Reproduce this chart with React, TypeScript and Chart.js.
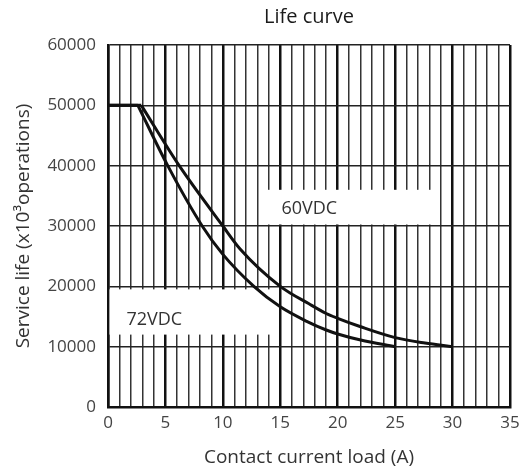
import React, { useEffect, useRef } from "react";
import { Chart, registerables } from "chart.js";

Chart.register(...registerables);

const TITLE = "Life curve";
const X_TITLE = "Contact current load (A)";
const Y_TITLE = "Service life (x10³operations)";

const xTicksMin = 0;
const xTicksMax = 35;
const yTicksMin = 0;
const yTicksMax = 60000;
const yStep = 10000;

// 72VDC series
const flat72X = [0, 2.6];
const flat72Y = [50000, 50000];
const curve72X = [2.6, 5.2, 8.2, 10, 12.7, 15, 17.3, 19, 20, 22, 25];
const curve72Y = [50000, 40000, 30000, 25300, 20000, 16600, 14200, 12760, 12100, 11100, 10000];

// 60VDC series
const flat60X = [0, 2.9];
const flat60Y = [50000, 50000];
const curve60X = [2.9, 6.2, 10, 11.5, 15, 17.5, 19, 20, 22, 25, 27.6, 30];
const curve60Y = [50000, 40000, 30000, 26200, 20000, 17100, 15500, 14700, 13300, 11500, 10600, 10000];

const LABEL_60 = "60VDC";
const LABEL_72 = "72VDC";

const FONT = "'Open Sans', sans-serif";

const toPts = (xs: number[], ys: number[]) => xs.map((x, i) => ({ x, y: ys[i] }));

const labelBoxes = {
  id: "labelBoxes",
  beforeDatasetsDraw(chart: any) {
    const { ctx, scales } = chart;
    const xs = scales.x;
    const ys = scales.y;
    ctx.save();
    ctx.fillStyle = "#ffffff";
    {
      const l = xs.getPixelForValue(13.6);
      const r = xs.getPixelForValue(28.9);
      const t = ys.getPixelForValue(36000);
      const b = ys.getPixelForValue(30000) - 1.5;
      ctx.fillRect(l, t, r - l, b - t);
    }
    {
      const l = xs.getPixelForValue(0) + 1.5;
      const r = xs.getPixelForValue(14.5);
      const t = ys.getPixelForValue(19500);
      const b = ys.getPixelForValue(12000);
      ctx.fillRect(l, t, r - l, b - t);
    }
    ctx.fillStyle = "#333333";
    ctx.font = "18px " + FONT;
    ctx.textBaseline = "middle";
    ctx.textAlign = "left";
    ctx.fillText(LABEL_60, xs.getPixelForValue(15.1), ys.getPixelForValue(32800));
    ctx.fillText(LABEL_72, xs.getPixelForValue(1.6), ys.getPixelForValue(14500));
    ctx.restore();
  },
};

export default function App() {
  const ref = useRef<HTMLCanvasElement | null>(null);
  useEffect(() => {
    if (!ref.current) return;
    const lineStyle = {
      borderColor: "#111111",
      borderWidth: 3,
      pointRadius: 0,
      fill: false,
    };
    const chart = new Chart(ref.current, {
      type: "line",
      data: {
        datasets: [
          { ...lineStyle, label: "72VDC flat", data: toPts(flat72X, flat72Y), tension: 0 },
          { ...lineStyle, label: "72VDC", data: toPts(curve72X, curve72Y), cubicInterpolationMode: "monotone" },
          { ...lineStyle, label: "60VDC flat", data: toPts(flat60X, flat60Y), tension: 0 },
          { ...lineStyle, label: "60VDC", data: toPts(curve60X, curve60Y), cubicInterpolationMode: "monotone" },
        ] as any,
      },
      options: {
        animation: false,
        responsive: false,
        maintainAspectRatio: false,
        layout: { padding: { left: 0, right: 19, top: 0, bottom: 0 } },
        plugins: {
          legend: { display: false },
          tooltip: { enabled: false },
          title: {
            display: true,
            text: TITLE,
            fullSize: false,
            color: "#1a1a1a",
            font: { family: FONT, size: 20, weight: "normal" },
            padding: { top: 5, bottom: 16 },
          },
        },
        scales: {
          x: {
            type: "linear",
            min: xTicksMin,
            max: xTicksMax,
            afterFit: (s: any) => { s.height = 65; },
            afterBuildTicks: (s: any) => {
              const t = [];
              for (let v = xTicksMin; v <= xTicksMax; v++) t.push({ value: v });
              s.ticks = t;
            },
            ticks: {
              autoSkip: false,
              maxRotation: 0,
              padding: 6,
              color: "#444444",
              font: { family: FONT, size: 17 },
              callback: (v: any) => (Number(v) % 5 === 0 ? String(v) : ""),
            },
            grid: {
              drawTicks: false,
              color: (c: any) => (c.tick && c.tick.value % 5 === 0 ? "#111111" : "#333333"),
              lineWidth: (c: any) => (c.tick && c.tick.value % 5 === 0 ? 2.5 : 1.5),
            },
            border: { color: "#111111", width: 2.5 },
            title: {
              display: true,
              text: X_TITLE,
              color: "#333333",
              font: { family: FONT, size: 19 },
              padding: { top: 0, bottom: 3 },
            },
          },
          y: {
            type: "linear",
            min: yTicksMin,
            max: yTicksMax,
            afterFit: (s: any) => { s.width = 108; },
            ticks: {
              stepSize: yStep,
              padding: 12,
              color: "#444444",
              font: { family: FONT, size: 17 },
              callback: (v: any) => String(v),
            },
            grid: {
              drawTicks: false,
              color: "#222222",
              lineWidth: 1.5,
            },
            border: { color: "#111111", width: 2.5 },
            title: {
              display: true,
              text: Y_TITLE,
              color: "#333333",
              font: { family: FONT, size: 19 },
              padding: { top: 12, bottom: 0 },
            },
          },
        },
      },
      plugins: [labelBoxes],
    });
    return () => chart.destroy();
  }, []);
  return (
    <div style={{ position: "fixed", left: 0, top: 0, width: 529, height: 472, background: "#fff" }}>
      <canvas ref={ref} width={529} height={472} style={{ display: "block", width: 529, height: 472 }} />
    </div>
  );
}
